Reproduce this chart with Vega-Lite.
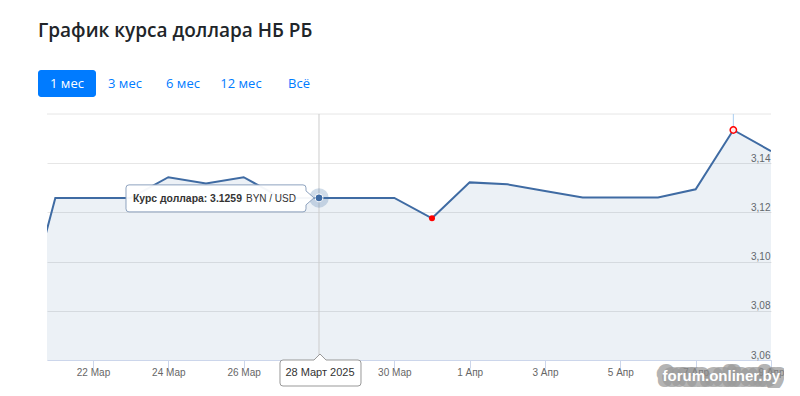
{
  "$schema": "https://vega.github.io/schema/vega-lite/v6.json",
  "background": "white",
  "padding": {"left": 38, "top": 22, "right": 0, "bottom": 0},
  "title": {
    "text": "График курса доллара НБ РБ",
    "anchor": "start",
    "frame": "group",
    "font": "Open Sans",
    "fontSize": 19,
    "fontWeight": 600,
    "color": "#212529",
    "offset": 29
  },
  "datasets": {
    "buttons": [
      {"label": "1 мес"},
      {"label": "3 мес"},
      {"label": "6 мес"},
      {"label": "12 мес"},
      {"label": "Всё"}
    ],
    "series": [
      {"date": "2025-03-20", "value": 3.068},
      {"date": "2025-03-21", "value": 3.1259},
      {"date": "2025-03-22", "value": 3.1259},
      {"date": "2025-03-23", "value": 3.1259},
      {"date": "2025-03-24", "value": 3.1343},
      {"date": "2025-03-25", "value": 3.1318},
      {"date": "2025-03-26", "value": 3.1343},
      {"date": "2025-03-27", "value": 3.1259},
      {"date": "2025-03-28", "value": 3.1259},
      {"date": "2025-03-29", "value": 3.1259},
      {"date": "2025-03-30", "value": 3.1259},
      {"date": "2025-03-31", "value": 3.1176},
      {"date": "2025-04-01", "value": 3.1322},
      {"date": "2025-04-02", "value": 3.1314},
      {"date": "2025-04-03", "value": 3.1287},
      {"date": "2025-04-04", "value": 3.1261},
      {"date": "2025-04-05", "value": 3.1261},
      {"date": "2025-04-06", "value": 3.1261},
      {"date": "2025-04-07", "value": 3.1294},
      {"date": "2025-04-08", "value": 3.1535},
      {"date": "2025-04-09", "value": 3.1449}
    ],
    "extremes": [
      {"date": "2025-03-31", "value": 3.1176, "kind": "min"},
      {"date": "2025-04-08", "value": 3.1535, "kind": "max"}
    ],
    "hover": [
      {"date": "2025-03-28", "value": 3.1259, "rate": "Курс доллара: 3.1259", "unit": "BYN / USD", "day": "28 Март 2025"}
    ],
    "watermark": [
      {"date": "2025-04-09", "text": "forum.onliner.by"}
    ]
  },
  "spacing": 16,
  "vconcat": [
    {
      "data": {"name": "buttons"},
      "width": {"step": 58},
      "height": 27,
      "layer": [
        {
          "transform": [{"filter": "datum.label == '1 мес'"}],
          "mark": {"type": "rect", "fill": "#007bff", "cornerRadius": 3},
          "encoding": {
            "x": {"field": "label", "type": "nominal", "sort": null, "axis": null,
              "scale": {"domain": ["1 мес", "3 мес", "6 мес", "12 мес", "Всё"], "paddingInner": 0, "paddingOuter": 0}}
          }
        },
        {
          "mark": {"type": "text", "font": "Open Sans", "fontSize": 13},
          "encoding": {
            "x": {"field": "label", "type": "nominal", "sort": null, "axis": null,
              "scale": {"domain": ["1 мес", "3 мес", "6 мес", "12 мес", "Всё"], "paddingInner": 0, "paddingOuter": 0}},
            "text": {"field": "label"},
            "color": {"condition": {"test": "datum.label == '1 мес'", "value": "#ffffff"}, "value": "#007bff"}
          }
        }
      ]
    },
    {
      "spacing": 7,
      "hconcat": [
        {
          "data": {"values": []},
          "width": 1,
          "height": 246,
          "mark": {"type": "point", "opacity": 0},
          "encoding": {}
        },
        {
          "width": 724,
          "height": 246,
          "layer": [
            {
              "data": {"name": "series"},
              "mark": {"type": "area", "clip": true, "fill": "#4572a7", "fillOpacity": 0.1},
              "encoding": {
                "x": {
                  "field": "date", "type": "temporal",
                  "scale": {"type": "utc", "domain": [
                    {"year": 2025, "month": "mar", "date": 20, "hours": 18, "minutes": 42, "utc": true},
                    {"year": 2025, "month": "apr", "date": 9, "utc": true}
                  ]},
                  "axis": {
                    "values": [
                      {"year": 2025, "month": "mar", "date": 22, "utc": true},
                      {"year": 2025, "month": "mar", "date": 24, "utc": true},
                      {"year": 2025, "month": "mar", "date": 26, "utc": true},
                      {"year": 2025, "month": "mar", "date": 28, "utc": true},
                      {"year": 2025, "month": "mar", "date": 30, "utc": true},
                      {"year": 2025, "month": "apr", "date": 1, "utc": true},
                      {"year": 2025, "month": "apr", "date": 3, "utc": true},
                      {"year": 2025, "month": "apr", "date": 5, "utc": true},
                      {"year": 2025, "month": "apr", "date": 7, "utc": true},
                      {"year": 2025, "month": "apr", "date": 9, "utc": true}
                    ],
                    "labelExpr": "utcdate(datum.value) + ' ' + (utcmonth(datum.value) == 2 ? 'Мар' : 'Апр')",
                    "title": null,
                    "grid": false,
                    "labelFont": "Liberation Sans",
                    "labelFontSize": 10,
                    "labelColor": "#666666",
                    "domainColor": "#ccd6eb",
                    "tickColor": "#ccd6eb",
                    "tickSize": 8,
                    "labelPadding": -1,
                    "labelFlush": false,
                    "labelOverlap": false
                  }
                },
                "y": {
                  "field": "value", "type": "quantitative",
                  "scale": {"domain": [3.06, 3.16], "nice": false, "zero": false},
                  "axis": {
                    "orient": "right",
                    "values": [3.06, 3.08, 3.1, 3.12, 3.14],
                    "labelExpr": "replace(format(datum.value, '.2f'), '.', ',')",
                    "title": null,
                    "ticks": false,
                    "domain": false,
                    "grid": true,
                    "gridColor": "#e6e6e6",
                    "labelAlign": "right",
                    "labelBaseline": "alphabetic",
                    "labelPadding": -1,
                    "labelOffset": -2,
                    "labelFont": "Liberation Sans",
                    "labelFontSize": 10,
                    "labelColor": "#666666"
                  }
                },
                "y2": {"datum": 3.06}
              }
            },
            {
              "data": {"values": [{}]},
              "mark": {"type": "rule", "color": "#e6e6e6"},
              "encoding": {"y": {"datum": 3.16}}
            },
            {
              "data": {"name": "series"},
              "mark": {"type": "line", "clip": true, "color": "#3f6ba3", "strokeWidth": 2},
              "encoding": {
                "x": {"field": "date", "type": "temporal"},
                "y": {"field": "value", "type": "quantitative"}
              }
            },
            {
              "data": {"name": "hover"},
              "mark": {"type": "rule", "color": "#cccccc", "strokeWidth": 1},
              "encoding": {
                "x": {"field": "date", "type": "temporal"},
                "y": {"datum": 3.06},
                "y2": {"datum": 3.16}
              }
            },
            {
              "data": {"name": "extremes"},
              "transform": [{"filter": "datum.kind == 'max'"}],
              "mark": {"type": "rule", "color": "#a9cdf0", "strokeWidth": 1},
              "encoding": {
                "x": {"field": "date", "type": "temporal"},
                "y": {"field": "value", "type": "quantitative"},
                "y2": {"datum": 3.16}
              }
            },
            {
              "data": {"name": "hover"},
              "mark": {"type": "point", "filled": true, "fill": "#4572a7", "opacity": 0.25, "size": 380},
              "encoding": {
                "x": {"field": "date", "type": "temporal"},
                "y": {"field": "value", "type": "quantitative"}
              }
            },
            {
              "data": {"name": "hover"},
              "mark": {"type": "point", "filled": true, "fill": "#3f6ba3", "stroke": "#ffffff", "strokeWidth": 1, "opacity": 1, "size": 64},
              "encoding": {
                "x": {"field": "date", "type": "temporal"},
                "y": {"field": "value", "type": "quantitative"}
              }
            },
            {
              "data": {"name": "extremes"},
              "transform": [{"filter": "datum.kind == 'min'"}],
              "mark": {"type": "point", "filled": true, "fill": "#ff0000", "opacity": 1, "size": 36},
              "encoding": {
                "x": {"field": "date", "type": "temporal"},
                "y": {"field": "value", "type": "quantitative"}
              }
            },
            {
              "data": {"name": "extremes"},
              "transform": [{"filter": "datum.kind == 'max'"}],
              "mark": {"type": "point", "fill": "#ffeaea", "fillOpacity": 1, "stroke": "#ff0000", "strokeWidth": 1.5, "opacity": 1, "size": 40},
              "encoding": {
                "x": {"field": "date", "type": "temporal"},
                "y": {"field": "value", "type": "quantitative"}
              }
            },
            {
              "data": {"name": "hover"},
              "mark": {
                "type": "point",
                "shape": "M -5 0 L -13 -7 L -13 -10 Q -13 -13 -16 -13 L -190 -13 Q -193 -13 -193 -10 L -193 11 Q -193 14 -190 14 L -16 14 Q -13 14 -13 11 L -13 7 Z",
                "size": 4,
                "fill": "#ffffff",
                "fillOpacity": 0.95,
                "stroke": "#8ea3bf",
                "strokeWidth": 1,
                "opacity": 1
              },
              "encoding": {
                "x": {"field": "date", "type": "temporal"},
                "y": {"field": "value", "type": "quantitative"}
              }
            },
            {
              "data": {"name": "hover"},
              "mark": {"type": "text", "align": "left", "baseline": "middle", "dx": -186, "dy": 1, "font": "Liberation Sans", "fontSize": 10.4, "fontWeight": "bold", "color": "#333333"},
              "encoding": {
                "x": {"field": "date", "type": "temporal"},
                "y": {"field": "value", "type": "quantitative"},
                "text": {"field": "rate"}
              }
            },
            {
              "data": {"name": "hover"},
              "mark": {"type": "text", "align": "right", "baseline": "middle", "dx": -23, "dy": 1, "font": "Liberation Sans", "fontSize": 10, "color": "#333333"},
              "encoding": {
                "x": {"field": "date", "type": "temporal"},
                "y": {"field": "value", "type": "quantitative"},
                "text": {"field": "unit"}
              }
            },
            {
              "data": {"name": "hover"},
              "mark": {
                "type": "point",
                "shape": "M 1 -6 L 7 0 L 39 0 Q 42 0 42 3 L 42 23 Q 42 26 39 26 L -36 26 Q -39 26 -39 23 L -39 3 Q -39 0 -36 0 L -5 0 Z",
                "size": 4,
                "fill": "#ffffff",
                "fillOpacity": 1,
                "stroke": "#999999",
                "strokeWidth": 1,
                "opacity": 1
              },
              "encoding": {
                "x": {"field": "date", "type": "temporal"},
                "y": {"datum": 3.06}
              }
            },
            {
              "data": {"name": "hover"},
              "mark": {"type": "text", "align": "center", "baseline": "middle", "dx": 1, "dy": 13, "font": "Liberation Sans", "fontSize": 11, "color": "#333333"},
              "encoding": {
                "x": {"field": "date", "type": "temporal"},
                "y": {"datum": 3.06},
                "text": {"field": "day"}
              }
            },
            {
              "data": {"name": "watermark"},
              "mark": {"type": "text", "align": "right", "baseline": "middle", "dx": 9, "dy": 16, "font": "Liberation Sans", "fontSize": 15, "fontWeight": "bold", "fill": "#8a8a8a", "stroke": "#8a8a8a", "strokeWidth": 12, "strokeJoin": "round", "strokeOpacity": 0.75, "opacity": 0.85},
              "encoding": {
                "x": {"field": "date", "type": "temporal"},
                "y": {"datum": 3.06},
                "text": {"field": "text"}
              }
            },
            {
              "data": {"name": "watermark"},
              "mark": {"type": "text", "align": "right", "baseline": "middle", "dx": 9, "dy": 16, "font": "Liberation Sans", "fontSize": 15, "fontWeight": "bold", "color": "#ffffff"},
              "encoding": {
                "x": {"field": "date", "type": "temporal"},
                "y": {"datum": 3.06},
                "text": {"field": "text"}
              }
            }
          ]
        }
      ]
    }
  ],
  "config": {
    "view": {"stroke": null},
    "font": "Liberation Sans"
  }
}
